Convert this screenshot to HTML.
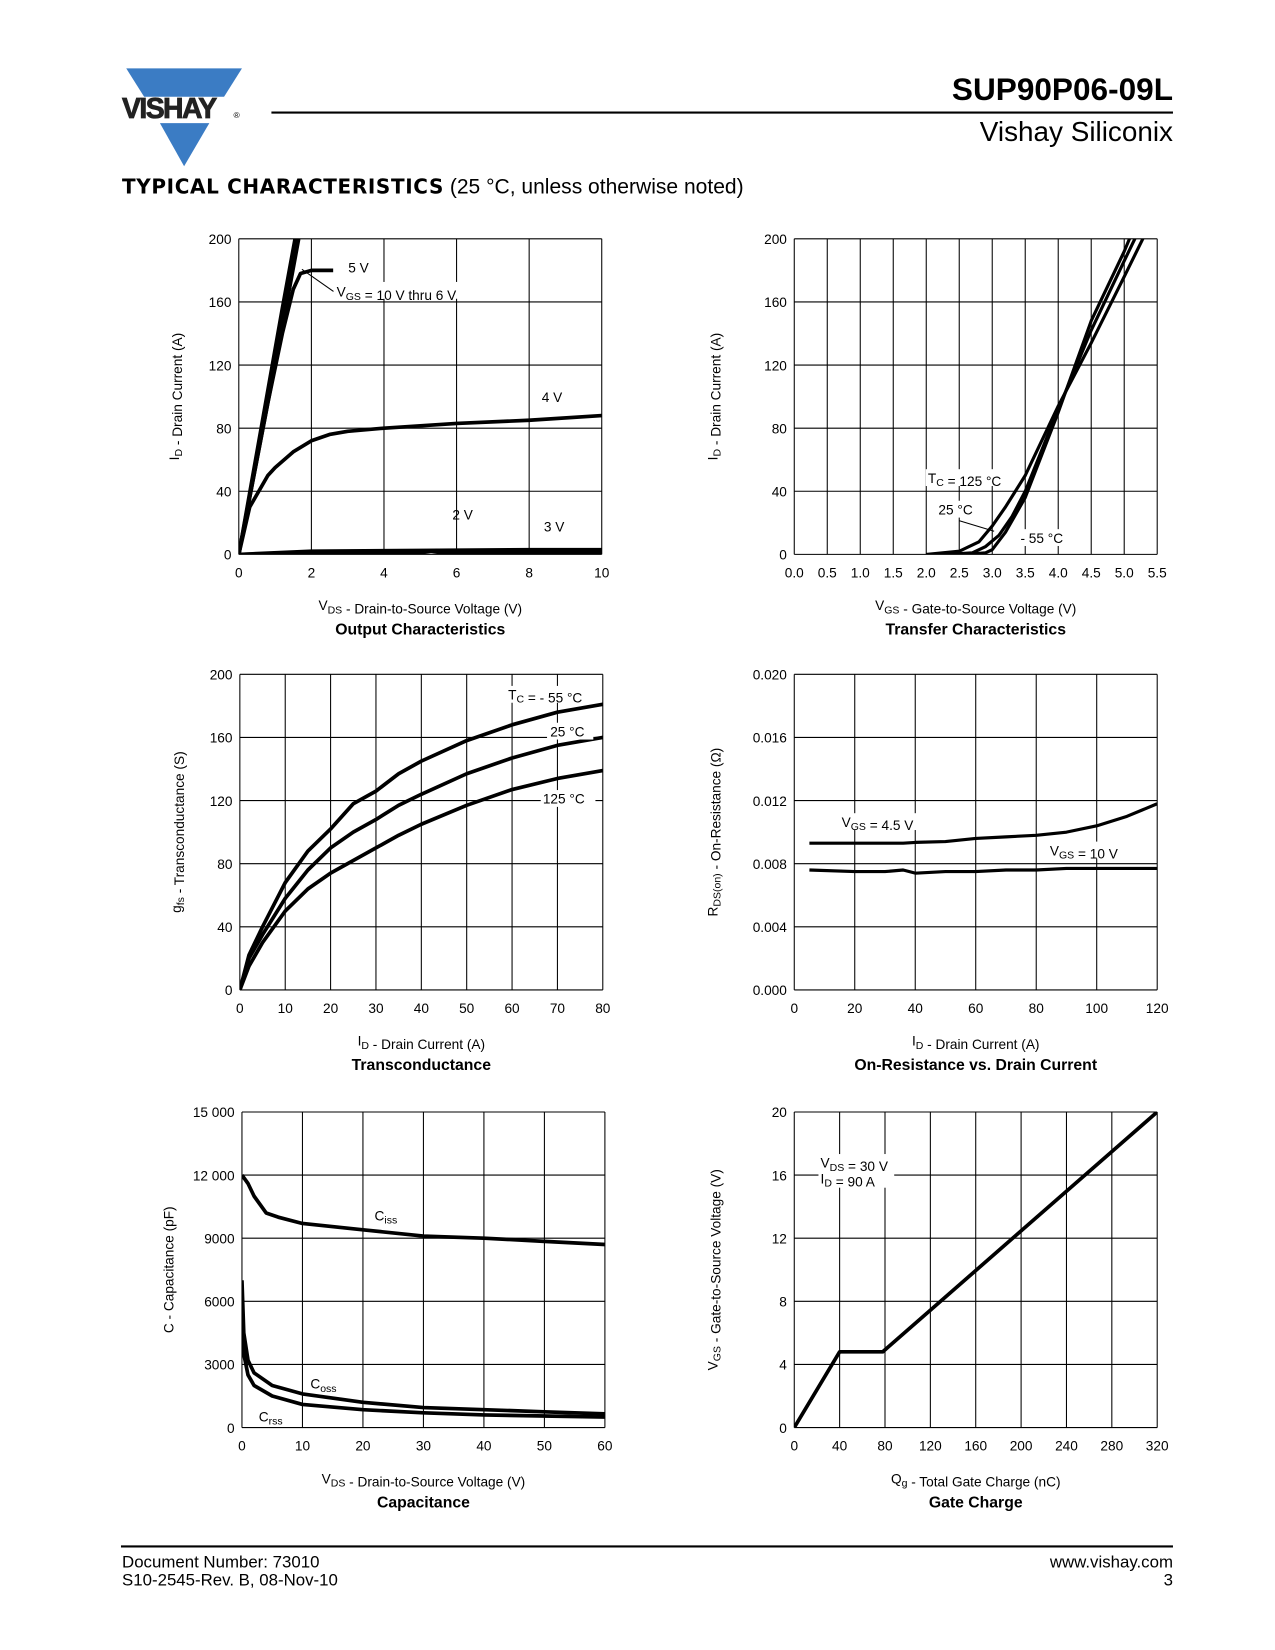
<!DOCTYPE html>
<html><head><meta charset="utf-8"><style>
body{margin:0;background:#fff;width:1275px;height:1650px;overflow:hidden}
#wrap{position:absolute;left:0;top:0;width:1212px;height:1568px;transform:scale(1.052);transform-origin:0 0;font-family:"Liberation Sans",sans-serif;color:#000}
.t{position:absolute;white-space:nowrap}
</style></head><body>
<div id="wrap">
<svg width="1212" height="1568" style="position:absolute;left:0;top:0" id="svg">
<polygon points="120,65 230,65 213,92 137,92" fill="#3b7cc4"/>
<polygon points="152,117 199,117 175,158" fill="#3b7cc4"/>
<text x="116" y="112" font-family="Liberation Sans" font-weight="bold" font-size="27" letter-spacing="-1.5" stroke="#222" stroke-width="0.8" fill="#222">VISHAY</text>
<text x="222" y="112" font-size="8" font-family="Liberation Sans">®</text>
<line x1="258" y1="107" x2="1115" y2="107" stroke="#000" stroke-width="2"/>
<line x1="115" y1="1470" x2="1115" y2="1470" stroke="#000" stroke-width="2"/>
</svg>
<div class="t" style="right:97px;top:69px;font-size:30px;font-weight:bold">SUP90P06-09L</div>
<div class="t" style="right:97px;top:110px;font-size:26.5px">Vishay Siliconix</div>
<div class="t" style="left:116px;top:167px;font-size:20px"><b style="letter-spacing:0.6px;font-family:'DejaVu Sans',sans-serif;font-size:19px">TYPICAL CHARACTERISTICS</b> (25 °C, unless otherwise noted)</div>
<div class="t" style="left:116px;top:1477px;font-size:16px;line-height:17px">Document Number: 73010<br>S10-2545-Rev. B, 08-Nov-10</div>
<div class="t" style="right:97px;top:1477px;font-size:16px;line-height:17px;text-align:right">www.vishay.com<br>3</div>
</div>
<script>
// Output characteristics
const outX10=[0,0.4,0.8,1.2,1.6];const outY10=[0,50,100,150,200];
const outX8=[0,0.4,0.8,1.2,1.65];const outY8=[0,48,96,144,200];
const outX6=[0,0.4,0.8,1.2,1.55];const outY6=[0,52,104,156,200];
const outX5=[0,0.4,0.8,1.2,1.5,1.7,2.0,2.6];const outY5=[0,48,96,140,168,178,180,180];
const outX4=[0,0.3,0.8,1,1.5,2,2.5,3,4,6,8,10];const outY4=[0,30,50,55,65,72,76,78,80,83,85,88];
const outX3=[0,2,5,8,10];const outY3=[0,2,2.5,3,3];
const outX2=[0,2,5,5.3,5.6,8,10];const outY2=[0,1,1,2,1,1,1];
// Transfer
const trX125=[2.0,2.5,2.8,3.0,3.2,3.5,4.0,4.5,5.0,5.4];const trY125=[0,2,8,18,30,50,94,134,176,210];
const trX25=[2.3,2.7,2.9,3.1,3.3,3.5,4.0,4.5,5.0,5.3];const trY25=[0,1,5,12,24,40,92,142,186,212];
const trXm55=[2.6,2.9,3.0,3.2,3.5,4.0,4.5,5.0,5.2];const trYm55=[0,1,3,14,36,90,148,192,212];
// Transconductance
const gfsX=[0,2,5,10,15,20,25,30,35,40,50,60,70,80];
const gfsM55=[0,22,40,68,88,102,118,126,137,145,158,168,176,181];
const gfs25=[0,20,35,58,76,90,100,108,117,124,137,147,155,160];
const gfs125=[0,15,30,50,64,74,82,90,98,105,117,127,134,139];
// On-resistance
const ronX=[5,20,30,36,40,50,60,70,80,90,100,110,120];
const ron45=[0.0093,0.0093,0.0093,0.0093,0.00935,0.0094,0.0096,0.0097,0.0098,0.0100,0.0104,0.0110,0.0118];
const ron10=[0.0076,0.0075,0.0075,0.0076,0.0074,0.0075,0.0075,0.0076,0.0076,0.0077,0.0077,0.0077,0.0077];
// Capacitance
const cissX=[0,1,2,4,6,10,20,30,40,50,60];const ciss=[12000,11600,11000,10200,10000,9700,9400,9100,9000,8850,8700];
const cossX=[0,0.3,1,2,5,10,20,30,40,50,60];const coss=[7000,4500,3200,2600,2000,1600,1200,950,850,750,650];
const crssX=[0,0.3,1,2,5,10,20,30,40,50,60];const crss=[5500,3500,2500,2000,1500,1100,850,700,600,550,500];
// Gate charge
const qgX=[0,40,78,320];const qgY=[0,4.8,4.8,20];

const NS="http://www.w3.org/2000/svg";const svg=document.getElementById('svg');
function el(t,a,p){const e=document.createElementNS(NS,t);for(const k in a)e.setAttribute(k,a[k]);(p||svg).appendChild(e);return e;}
function txt(x,y,s,size,anchor,bold,name){const e=document.createElementNS(NS,'text');e.setAttribute('x',x);e.setAttribute('y',y);e.setAttribute('font-size',size||13);e.setAttribute('font-family','Liberation Sans, sans-serif');e.setAttribute('text-anchor',anchor||'middle');if(bold)e.setAttribute('font-weight','bold');e.innerHTML=s;


svg.appendChild(e);return e;}
function chart(c){
 const g=el('g',{});
 
 
 const sx=v=>c.x0+(v-c.xmin)/(c.xmax-c.xmin)*(c.x1-c.x0);
 const sy=v=>c.y1-(v-c.ymin)/(c.ymax-c.ymin)*(c.y1-c.y0);
 for(let i=0;i<=c.nx;i++){const x=c.x0+i*(c.x1-c.x0)/c.nx;el('line',{x1:x,x2:x,y1:c.y0,y2:c.y1,stroke:'#000','stroke-width':1},g);}
 for(let i=0;i<=c.ny;i++){const y=c.y0+i*(c.y1-c.y0)/c.ny;el('line',{x1:c.x0,x2:c.x1,y1:y,y2:y,stroke:'#000','stroke-width':1},g);}
 c.xt.forEach((s,i)=>{txt(c.x0+i*(c.x1-c.x0)/(c.xt.length-1),c.y1+22,s,13,'middle',false,'x-tick');});
 c.yt.forEach((s,i)=>{txt(c.x0-7,c.y1-i*(c.y1-c.y0)/(c.yt.length-1)+5,s,13,'end',false,'y-tick');});
 const cp=el('clipPath',{id:'cp'+c.name});el('rect',{x:c.x0,y:c.y0,width:c.x1-c.x0,height:c.y1-c.y0},cp);
 c.series.forEach(s=>{const p=el('polyline',{points:s[0].map((v,i)=>sx(v)+','+sy(s[1][i])).join(' '),fill:'none',stroke:'#000','stroke-width':s[2]||3.5,'stroke-linejoin':'round','clip-path':'url(#cp'+c.name+')'},g);
  
  });
 txt((c.x0+c.x1)/2,c.y1+53,c.xl,13,'middle',false,'x-axis-title');
 txt((c.x0+c.x1)/2,c.y1+76,c.title,15,'middle',true,'chart-title');
 const yl=txt(0,0,c.yl,13,'middle',false,'y-axis-title');yl.setAttribute('transform','translate('+c.ylx+','+(c.y0+c.y1)/2+') rotate(-90)');
 return {sx,sy};
}
function lbl(x,y,s,anchor){txt(x,y,s,13,anchor||'start',false,'curve-label');}
function w(x,y,wd){el('rect',{x:x,y:y,width:wd,height:16,fill:'#fff'});}
const sub=s=>'<tspan font-size="10" dy="3">'+s+'</tspan><tspan dy="-3"></tspan>';

chart({name:'output-chart',x0:227,x1:572,y0:227,y1:527,xmin:0,xmax:10,ymin:0,ymax:200,nx:5,ny:5,xt:['0','2','4','6','8','10'],yt:['0','40','80','120','160','200'],
 xl:'V'+sub('DS')+' - Drain-to-Source Voltage (V)',title:'Output Characteristics',yl:'I'+sub('D')+' - Drain Current (A)',ylx:170,
 series:[[outX10,outY10,3.5],[outX8,outY8,3.5],[outX6,outY6,3.5],[outX5,outY5],[outX4,outY4],[outX3,outY3],[outX2,outY2]]});
w(318,268,130);lbl(320,282,'V'+sub('GS')+' = 10 V thru 6 V');w(328,245,28);lbl(331,259,'5 V');lbl(515,382,'4 V');lbl(430,494,'2 V');lbl(517,505,'3 V');
el('line',{x1:317,y1:277,x2:287,y2:256,stroke:'#000'});

chart({name:'transfer-chart',x0:755,x1:1100,y0:227,y1:527,xmin:0,xmax:5.5,ymin:0,ymax:200,nx:11,ny:5,xt:['0.0','0.5','1.0','1.5','2.0','2.5','3.0','3.5','4.0','4.5','5.0','5.5'],yt:['0','40','80','120','160','200'],
 xl:'V'+sub('GS')+' - Gate-to-Source Voltage (V)',title:'Transfer Characteristics',yl:'I'+sub('D')+' - Drain Current (A)',ylx:682,
 series:[[trX125,trY125,3],[trX25,trY25,3],[trXm55,trYm55,3]]});
w(880,446,78);lbl(882,459,'T'+sub('C')+' = 125 °C');w(890,476,40);lbl(892,489,'25 °C');w(968,503,48);lbl(970,516,'- 55 °C');
el('line',{x1:912,y1:495,x2:945,y2:505,stroke:'#000'});

chart({name:'transconductance-chart',x0:228,x1:573,y0:641,y1:941,xmin:0,xmax:80,ymin:0,ymax:200,nx:8,ny:5,xt:['0','10','20','30','40','50','60','70','80'],yt:['0','40','80','120','160','200'],
 xl:'I'+sub('D')+' - Drain Current (A)',title:'Transconductance',yl:'g'+sub('fs')+' - Transconductance (S)',ylx:172,
 series:[[gfsX,gfsM55],[gfsX,gfs25],[gfsX,gfs125]]});
w(480,652,82);lbl(483,665,'T'+sub('C')+' = - 55 °C');w(520,687,44);lbl(523,700,'25 °C');w(514,751,52);lbl(516,764,'125 °C');

chart({name:'on-resistance-chart',x0:755,x1:1100,y0:641,y1:941,xmin:0,xmax:120,ymin:0,ymax:0.02,nx:6,ny:5,xt:['0','20','40','60','80','100','120'],yt:['0.000','0.004','0.008','0.012','0.016','0.020'],
 xl:'I'+sub('D')+' - Drain Current (A)',title:'On-Resistance vs. Drain Current',yl:'R'+sub('DS(on)')+' - On-Resistance (Ω)',ylx:682,
 series:[[ronX,ron45,3],[ronX,ron10,3]]});
w(798,773,78);lbl(800,786,'V'+sub('GS')+' = 4.5 V');w(996,800,72);lbl(998,813,'V'+sub('GS')+' = 10 V');

chart({name:'capacitance-chart',x0:230,x1:575,y0:1057,y1:1357,xmin:0,xmax:60,ymin:0,ymax:15000,nx:6,ny:5,xt:['0','10','20','30','40','50','60'],yt:['0','3000','6000','9000','12 000','15 000'],
 xl:'V'+sub('DS')+' - Drain-to-Source Voltage (V)',title:'Capacitance',yl:'C - Capacitance (pF)',ylx:165,
 series:[[cissX,ciss],[cossX,coss],[crssX,crss]]});
lbl(356,1160,'C'+sub('iss'));lbl(295,1320,'C'+sub('oss'));lbl(246,1351,'C'+sub('rss'));

chart({name:'gate-charge-chart',x0:755,x1:1100,y0:1057,y1:1357,xmin:0,xmax:320,ymin:0,ymax:20,nx:8,ny:5,xt:['0','40','80','120','160','200','240','280','320'],yt:['0','4','8','12','16','20'],
 xl:'Q'+sub('g')+' - Total Gate Charge (nC)',title:'Gate Charge',yl:'V'+sub('GS')+' - Gate-to-Source Voltage (V)',ylx:682,
 series:[[qgX,qgY]]});
w(778,1097,72);w(778,1113,72);lbl(780,1110,'V'+sub('DS')+' = 30 V');lbl(780,1125,'I'+sub('D')+' = 90 A');
</script>
</body></html>
